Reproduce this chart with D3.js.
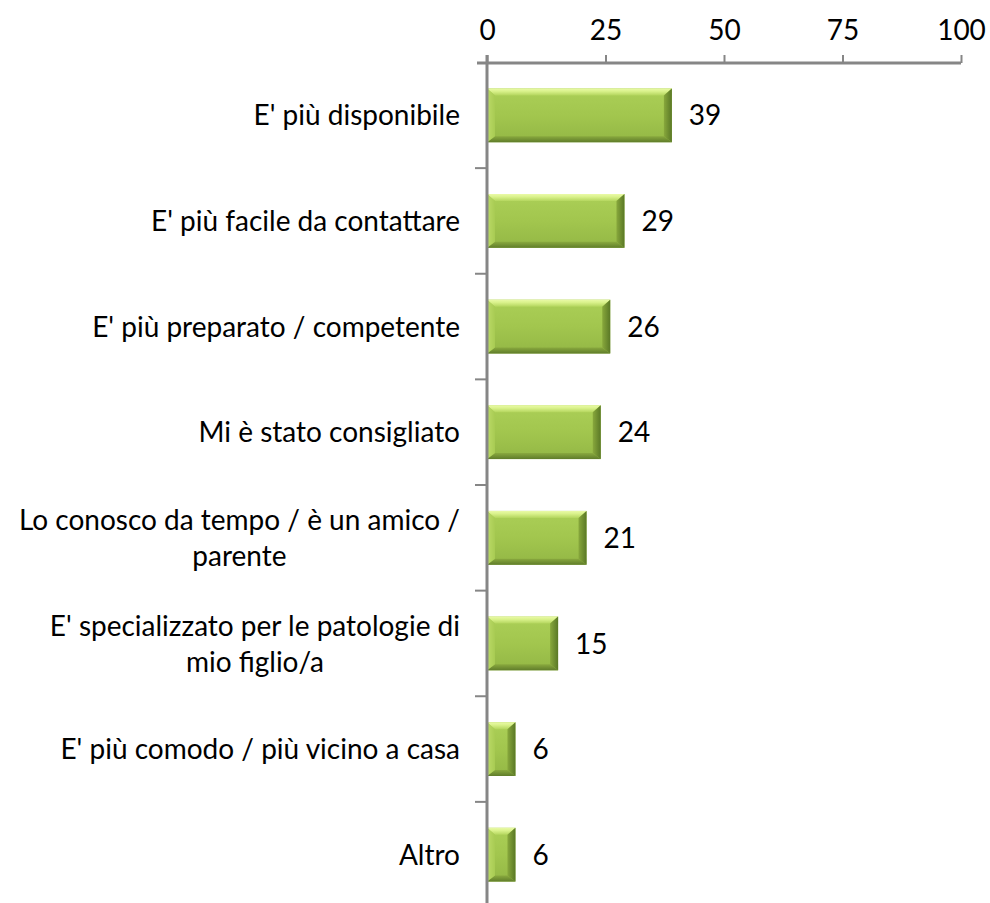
<!DOCTYPE html>
<html><head><meta charset="utf-8">
<script src="https://cdn.jsdelivr.net/npm/d3@7"></script>
<style>
html,body{margin:0;padding:0;background:#fff;}
text{font-family:Lato,"Open Sans",sans-serif;fill:#000;}
</style></head>
<body>
<svg id="chart" width="990" height="903"></svg>
<script>
const categories = [
  ["E' più disponibile"],
  ["E' più facile da contattare"],
  ["E' più preparato / competente"],
  ["Mi è stato consigliato"],
  ["Lo conosco da tempo / è un amico /", "parente"],
  ["E' specializzato per le patologie di", "mio figlio/a"],
  ["E' più comodo / più vicino a casa"],
  ["Altro"]
];
const values = [39, 29, 26, 24, 21, 15, 6, 6];
const xTicks = [0, 25, 50, 75, 100];

const svg = d3.select("#chart");
const W = 990, H = 903;
const FS = 28;
const x = d3.scaleLinear().domain([0, 100]).range([487, 961]);
const idx = categories.map((d, i) => i);
const y = d3.scaleBand().domain(idx).range([62.5, 907.5]).paddingInner(0.49).paddingOuter(0.245);
const step = y.step();

// gradients
const defs = svg.append("defs");
const g1 = defs.append("linearGradient").attr("id", "face").attr("x1", 0).attr("y1", 0).attr("x2", 0).attr("y2", 1);
[[0, "#abcf57"], [0.5, "#a2c64e"], [1, "#93b745"]].forEach(([o, c]) => g1.append("stop").attr("offset", o).attr("stop-color", c));
const gTop = defs.append("linearGradient").attr("id", "topb").attr("x1", 0).attr("y1", 0).attr("x2", 0).attr("y2", 1);
[[0, "#eafaa8"], [0.4, "#daf28c"], [1, "#b4d65e"]].forEach(([o, c]) => gTop.append("stop").attr("offset", o).attr("stop-color", c));
const gBot = defs.append("linearGradient").attr("id", "botb").attr("x1", 0).attr("y1", 0).attr("x2", 0).attr("y2", 1);
[[0, "#89a93e"], [1, "#5f7c2a"]].forEach(([o, c]) => gBot.append("stop").attr("offset", o).attr("stop-color", c));
const gR = defs.append("linearGradient").attr("id", "rightb").attr("x1", 0).attr("y1", 0).attr("x2", 1).attr("y2", 0);
[[0, "#88a83c"], [1, "#5a7826"]].forEach(([o, c]) => gR.append("stop").attr("offset", o).attr("stop-color", c));
const gL = defs.append("linearGradient").attr("id", "leftb").attr("x1", 0).attr("y1", 0).attr("x2", 1).attr("y2", 0);
[[0, "#bcdb68"], [1, "#a8cb53"]].forEach(([o, c]) => gL.append("stop").attr("offset", o).attr("stop-color", c));

// bars
const bars = svg.append("g").selectAll("g").data(values).join("g");
bars.each(function(v, i) {
  const g = d3.select(this);
  const x0 = x(0), x1 = x(v), y0 = y(i), y1 = y(i) + y.bandwidth();
  const b = Math.min(8, (x1 - x0) / 2 - 1);
  const bt = 7, bb = 6;
  g.append("rect").attr("x", x0).attr("y", y0).attr("width", x1 - x0).attr("height", y1 - y0).attr("fill", "url(#face)");
  g.append("polygon").attr("points", [[x0, y0], [x1, y0], [x1 - b, y0 + bt], [x0 + b, y0 + bt]].join(" ")).attr("fill", "url(#topb)");
  g.append("polygon").attr("points", [[x0, y1], [x1, y1], [x1 - b, y1 - bb], [x0 + b, y1 - bb]].join(" ")).attr("fill", "url(#botb)");
  g.append("polygon").attr("points", [[x1, y0], [x1, y1], [x1 - b, y1 - bb], [x1 - b, y0 + bt]].join(" ")).attr("fill", "url(#rightb)");
  g.append("polygon").attr("points", [[x0, y0], [x0, y1], [x0 + b, y1 - bb], [x0 + b, y0 + bt]].join(" ")).attr("fill", "url(#leftb)");
});

// value labels
svg.append("g").selectAll("text").data(values).join("text")
  .attr("x", d => x(d) + 17)
  .attr("y", (d, i) => y(i) + y.bandwidth() / 2)
  .attr("dy", "0.36em")
  .attr("font-size", FS)
  .text(d => d);

// x axis (top)
const axisY = 63;
const xAxis = svg.append("g").attr("transform", `translate(0,${axisY})`)
  .call(d3.axisTop(x).tickValues(xTicks).tickSize(8).tickPadding(15).tickFormat(d3.format("d")));
xAxis.select(".domain").attr("stroke", "#868686").attr("stroke-width", 3).attr("d", `M${x(0) - 10},0H${x(100)}`);
xAxis.selectAll(".tick line").attr("stroke", "#868686").attr("stroke-width", 2);
xAxis.selectAll(".tick text").attr("font-size", FS).attr("font-family", "Lato").attr("fill", "#000");

// y axis
const yBounds = d3.range(1, categories.length).map(i => y(i) - step * y.paddingInner() / 2);
const yg = svg.append("g");
yg.append("line").attr("x1", x(0)).attr("x2", x(0)).attr("y1", axisY - 8).attr("y2", H)
  .attr("stroke", "#868686").attr("stroke-width", 3);
yg.selectAll("line.tk").data(yBounds).join("line").attr("class", "tk")
  .attr("x1", x(0) - 12).attr("x2", x(0)).attr("y1", d => d).attr("y2", d => d)
  .attr("stroke", "#868686").attr("stroke-width", 2);

// category labels
const labelRight = 460, lineH = 36;
const lab = svg.append("g").selectAll("text").data(categories).join("text")
  .attr("font-size", FS);
lab.each(function(lines, i) {
  const t = d3.select(this);
  const cy = y(i) + y.bandwidth() / 2;
  const n = lines.length;
  lines.forEach((ln, k) => {
    t.append("tspan").attr("y", cy + (k - (n - 1) / 2) * lineH).attr("dy", "0.36em").text(ln);
  });
  const ts = t.selectAll("tspan").nodes();
  const maxW = d3.max(ts, n => n.getComputedTextLength());
  if (n === 1) {
    t.attr("text-anchor", "end");
    t.selectAll("tspan").attr("x", labelRight);
  } else {
    t.attr("text-anchor", "middle");
    t.selectAll("tspan").attr("x", labelRight - maxW / 2);
  }
});
</script>
</body></html>
